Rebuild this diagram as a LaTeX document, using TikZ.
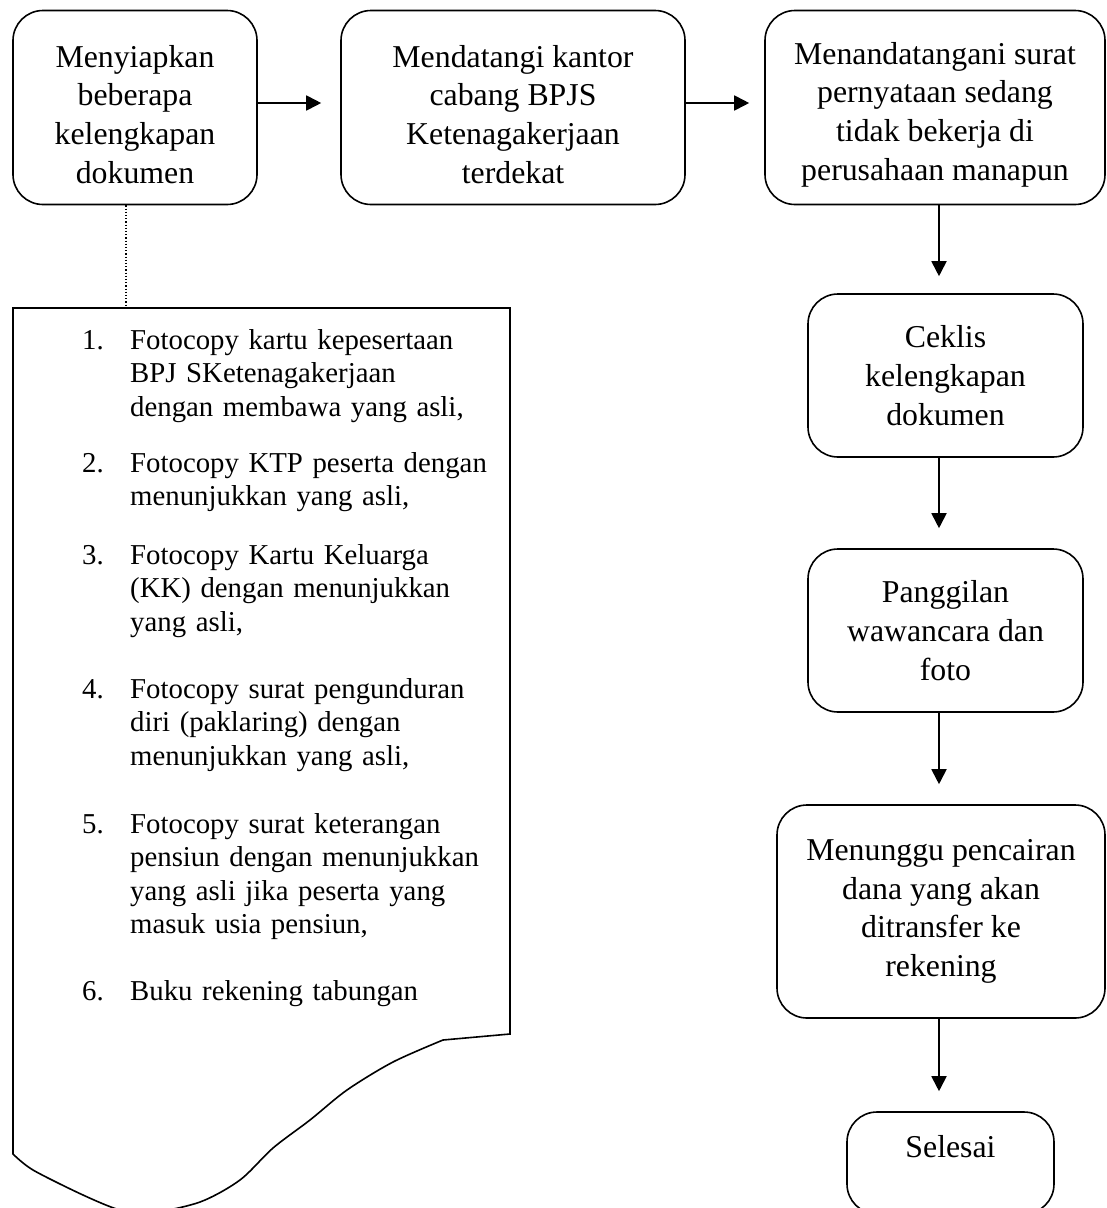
\documentclass[tikz,border=0pt]{standalone}
\usepackage{fontspec}
\setmainfont{Liberation Serif}
\usetikzlibrary{arrows.meta}
\tikzset{
  flowbox/.style={draw, line width=1.6pt, rounded corners=30pt, align=center,
    inner sep=0pt, font=\fontsize{31.8}{38.7}\selectfont},
  flowarrow/.style={line width=1.8pt, -{Triangle[length=15pt,width=15pt]}},
  listnum/.style={anchor=base west, inner sep=0pt, font=\fontsize{28.8}{33.5}\selectfont},
  listtext/.style={anchor=base west, inner sep=0pt, text width=380pt, align=left,
    font=\fontsize{28.8}{33.5}\selectfont},
  docshape/.style={draw, line width=1.6pt},
}
\newcommand{\topstrut}{\rule{0pt}{36pt}}
\begin{document}
\begin{tikzpicture}[x=1pt,y=-1pt]
\useasboundingbox[fill=white] (0,0) rectangle (1107,1208);
% top row
\node[flowbox, minimum width=244pt, minimum height=194pt] (b1) at (135,107.5)
  {\topstrut Menyiapkan\\beberapa\\kelengkapan\\dokumen};
\node[flowbox, minimum width=344pt, minimum height=194pt] (b2) at (513,107.5)
  {\topstrut Mendatangi kantor\\cabang BPJS\\Ketenagakerjaan\\terdekat};
\node[flowbox, minimum width=340pt, minimum height=194pt] (b3) at (935,107.5)
  {\topstrut Menandatangani surat\\pernyataan sedang\\tidak bekerja di\\perusahaan manapun};
% right column
\node[flowbox, minimum width=275pt, minimum height=163pt] (b4) at (945.5,375.5)
  {Ceklis\\kelengkapan\\dokumen};
\node[flowbox, minimum width=275pt, minimum height=163pt] (b5) at (945.5,630.5)
  {Panggilan\\wawancara dan\\foto};
\node[flowbox, minimum width=328pt, minimum height=213pt] (b6) at (941,911.5)
  {Menunggu pencairan\\dana yang akan\\ditransfer ke\\rekening};
\node[draw, line width=1.6pt, rounded corners=30pt, inner sep=0pt,
  minimum width=207pt, minimum height=102pt, font=\fontsize{31.8}{38.7}\selectfont,
  text height=45pt, text depth=57pt] (b7) at (950.5,1163) {Selesai};
% arrows
\coordinate (ay) at (0,103);
\coordinate (ax) at (939,0);
\draw[flowarrow, shorten >=19pt] (b1.east |- ay) -- (b2.west |- ay);
\draw[flowarrow, shorten >=15pt] (b2.east |- ay) -- (b3.west |- ay);
\draw[flowarrow, shorten >=17pt] (b3.south -| ax) -- (b4.north -| ax);
\draw[flowarrow, shorten >=20pt] (b4.south -| ax) -- (b5.north -| ax);
\draw[flowarrow, shorten >=20pt] (b5.south -| ax) -- (b6.north -| ax);
\draw[flowarrow, shorten >=20pt] (b6.south -| ax) -- (b7.north -| ax);
% document shape
\coordinate (doctop) at (126,308);
\draw[docshape] (13,308) -- (510,308) -- (510,1034) -- (443,1040)
  -- plot[smooth, tension=0.5] coordinates {(443,1040) (393,1062) (347,1090) (310,1120)
    (273,1148) (240,1180) (200,1202) (150,1213) (120,1210) (83,1195) (33,1170) (13,1154)}
  -- cycle;
\draw[line width=1.2pt, dotted] (b1.south -| doctop) -- (doctop);
% list
\node[listnum] (n1) at (82,349) {1.};
\node[listtext] (t1) at (130,349) {Fotocopy kartu kepesertaan\\BPJ SKetenagakerjaan\\dengan membawa yang asli,};
\node[listnum] (n2) at (82,472) {2.};
\node[listtext] (t2) at (130,472) {Fotocopy KTP peserta dengan\\menunjukkan yang asli,};
\node[listnum] (n3) at (82,564) {3.};
\node[listtext] (t3) at (130,564) {Fotocopy Kartu Keluarga\\(KK) dengan menunjukkan\\yang asli,};
\node[listnum] (n4) at (82,698) {4.};
\node[listtext] (t4) at (130,698) {Fotocopy surat pengunduran\\diri (paklaring) dengan\\menunjukkan yang asli,};
\node[listnum] (n5) at (82,833) {5.};
\node[listtext] (t5) at (130,833) {Fotocopy surat keterangan\\pensiun dengan menunjukkan\\yang asli jika peserta yang\\masuk usia pensiun,};
\node[listnum] (n6) at (82,1000) {6.};
\node[listtext] (t6) at (130,1000) {Buku rekening tabungan};
\end{tikzpicture}
\end{document}
